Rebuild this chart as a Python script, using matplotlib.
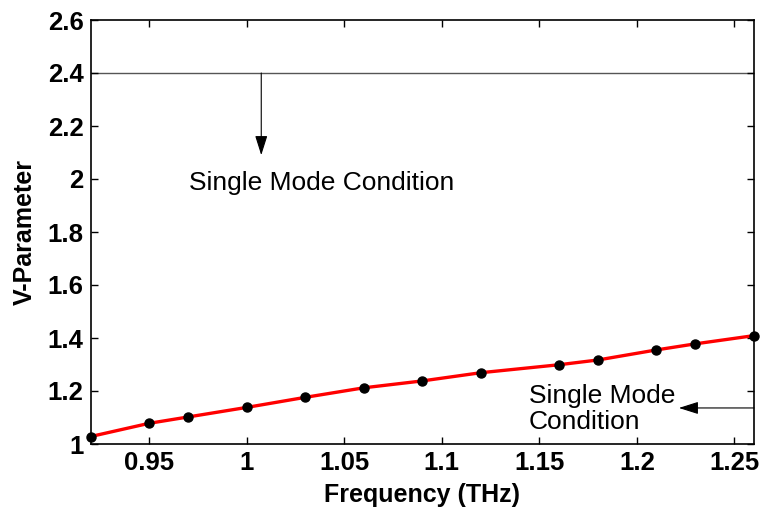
import matplotlib
matplotlib.use("Agg")
import matplotlib.pyplot as plt

freq = [0.92, 0.95, 0.97, 1.00, 1.03, 1.06, 1.09, 1.12, 1.16, 1.18, 1.21, 1.23, 1.26]
vparam = [1.028, 1.078, 1.102, 1.138, 1.176, 1.212, 1.238, 1.269, 1.299, 1.317, 1.355, 1.378, 1.409]
xticks = [0.95, 1.0, 1.05, 1.1, 1.15, 1.2, 1.25]
xticklabels = ["0.95", "1", "1.05", "1.1", "1.15", "1.2", "1.25"]
yticks = [1.0, 1.2, 1.4, 1.6, 1.8, 2.0, 2.2, 2.4, 2.6]
yticklabels = ["1", "1.2", "1.4", "1.6", "1.8", "2", "2.2", "2.4", "2.6"]
cutoff = 2.4

plt.rcParams['font.family'] = ['Liberation Sans', 'DejaVu Sans']
W, H = 761, 509
fig = plt.figure(figsize=(W / 100, H / 100), dpi=100)
left, right, top, bottom = 90.5, 754, 20, 444
ax = fig.add_axes([left / W, 1 - bottom / H, (right - left) / W, (bottom - top) / H])

ax.plot(freq, vparam, color='red', lw=2.4, zorder=2)
ax.plot(freq, vparam, 'o', color='black', ms=6.5, zorder=3, clip_on=False)

ax.axhline(cutoff, color='#555555', lw=1.0, zorder=1)
arrow = dict(arrowstyle='-|>,head_length=1.2,head_width=0.38', color='black', lw=0.8,
             shrinkA=0, shrinkB=0)
ax.annotate('', xy=(1.0075, 2.09), xytext=(1.0075, cutoff), arrowprops=arrow)
ax.text(0.9705, 1.985, 'Single Mode Condition', fontsize=19, ha='left', va='center')

ax.annotate('', xy=(1.2215, 1.136), xytext=(1.26, 1.136), arrowprops=arrow)
ax.text(1.1445, 1.133, 'Single Mode\nCondition', fontsize=19, ha='left', va='center',
        linespacing=1.12)

ax.set_xlim(0.92, 1.26)
ax.set_ylim(1.0, 2.6)
ax.set_xticks(xticks)
ax.set_xticklabels(xticklabels)
ax.set_yticks(yticks)
ax.set_yticklabels(yticklabels)
ax.tick_params(direction='in', top=True, right=True, length=5, width=1, labelsize=18.5, pad=5)
for lbl in ax.get_xticklabels() + ax.get_yticklabels():
    lbl.set_fontweight('bold')
for s in ax.spines.values():
    s.set_linewidth(1.2)
ax.set_xlabel('Frequency (THz)', fontsize=18, fontweight='bold', labelpad=6)
ax.set_ylabel('V-Parameter', fontsize=18, fontweight='bold', labelpad=8)

fig.savefig('out.png', dpi=100)
